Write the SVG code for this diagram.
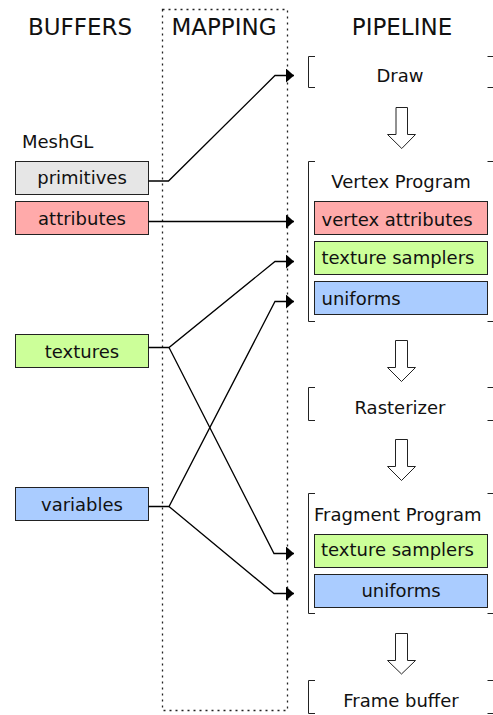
<svg xmlns="http://www.w3.org/2000/svg" width="493" height="715" viewBox="0 0 493 715">
  <defs>
    <style>
      text { font-family: "DejaVu Sans", "Liberation Sans", sans-serif; font-size: 18px; fill: #111; }
      .hdr { font-size: 23px; text-anchor: middle; }
      .mid { text-anchor: middle; }
      .box { stroke: #222; stroke-width: 1; }
      .grey { fill: #e6e6e6; }
      .red { fill: #ffaaaa; }
      .green { fill: #ccff99; }
      .blue { fill: #aaccff; }
      .bracket { fill: none; stroke: #222; stroke-width: 1; }
      .wire { fill: none; stroke: #000; stroke-width: 1.3; }
      .flow { fill: #fff; stroke: #222; stroke-width: 1; }
    </style>
    <marker id="arrow" viewBox="0 0 8 14" refX="8" refY="7" markerWidth="8" markerHeight="14" markerUnits="userSpaceOnUse" orient="auto">
      <path d="M0,0 L8,7 L0,14 Z" fill="#000"/>
    </marker>
  </defs>

  <!-- column headings -->
  <g id="headings">
    <text class="hdr" x="80" y="35">BUFFERS</text>
    <text class="hdr" x="224" y="35">MAPPING</text>
    <text class="hdr" x="402" y="35">PIPELINE</text>
  </g>

  <!-- mapping column outline -->
  <rect id="mapping" x="162.5" y="9.5" width="125" height="701" fill="none" stroke="#222" stroke-width="1.3" stroke-dasharray="2,4"/>

  <!-- buffer nodes -->
  <g id="meshgl-label"><text x="22" y="148">MeshGL</text></g>
  <g id="primitives">
    <rect class="box grey" x="15.5" y="161.5" width="133" height="33"/>
    <text class="mid" x="82" y="184">primitives</text>
  </g>
  <g id="attributes">
    <rect class="box red" x="15.5" y="201.5" width="133" height="33"/>
    <text class="mid" x="82" y="224.5">attributes</text>
  </g>
  <g id="textures">
    <rect class="box green" x="15.5" y="334.5" width="133" height="33"/>
    <text class="mid" x="82" y="357.5">textures</text>
  </g>
  <g id="variables">
    <rect class="box blue" x="15.5" y="487.5" width="133" height="33"/>
    <text class="mid" x="82" y="510.5">variables</text>
  </g>

  <!-- pipeline stages -->
  <g id="draw">
    <path class="bracket" d="M315,56.5 H308.5 V87.5 H315 M487.5,56.5 H494 V87.5 H487.5"/>
    <text class="mid" x="400" y="81.5">Draw</text>
  </g>
  <g id="vertex-program">
    <path class="bracket" d="M315,161.5 H308.5 V321.5 H315 M487.5,161.5 H494 V321.5 H487.5"/>
    <text class="mid" x="401" y="188">Vertex Program</text>
    <g id="vp-attributes">
      <rect class="box red" x="314.5" y="201.5" width="173" height="33"/>
      <text x="321.5" y="225.5">vertex attributes</text>
    </g>
    <g id="vp-samplers">
      <rect class="box green" x="314.5" y="241.5" width="173" height="33"/>
      <text x="321.5" y="263.5">texture samplers</text>
    </g>
    <g id="vp-uniforms">
      <rect class="box blue" x="314.5" y="281.5" width="173" height="33"/>
      <text x="321.5" y="305">uniforms</text>
    </g>
  </g>
  <g id="rasterizer">
    <path class="bracket" d="M315,387.5 H308.5 V420.5 H315 M487.5,387.5 H494 V420.5 H487.5"/>
    <text class="mid" x="400" y="414">Rasterizer</text>
  </g>
  <g id="fragment-program">
    <path class="bracket" d="M315,493.5 H308.5 V613.5 H315 M487.5,493.5 H494 V613.5 H487.5"/>
    <text x="314" y="520.5">Fragment Program</text>
    <g id="fp-samplers">
      <rect class="box green" x="314.5" y="534.5" width="173" height="33"/>
      <text x="321" y="555.5">texture samplers</text>
    </g>
    <g id="fp-uniforms">
      <rect class="box blue" x="314.5" y="574.5" width="173" height="33"/>
      <text class="mid" x="401" y="596.5">uniforms</text>
    </g>
  </g>
  <g id="frame-buffer">
    <path class="bracket" d="M315,680.5 H308.5 V713.5 H315 M487.5,680.5 H494 V713.5 H487.5"/>
    <text class="mid" x="401" y="707">Frame buffer</text>
  </g>

  <!-- stage-to-stage flow arrows -->
  <g id="flow">
    <path class="flow" d="M396,107.5 H407.5 V134.5 H415.5 L401.75,148.5 L387.5,134.5 H396 Z"/>
    <path class="flow" d="M395.5,340.5 H407.5 V367.5 H415.5 L401.5,381.5 L387.5,367.5 H395.5 Z"/>
    <path class="flow" d="M395.5,439.5 H407.5 V466.5 H415.5 L401.5,480.5 L387.5,466.5 H395.5 Z"/>
    <path class="flow" d="M395.5,633.5 H407.5 V660.5 H415.5 L401.5,674 L387.5,660.5 H395.5 Z"/>
  </g>

  <!-- buffer-to-input connectors -->
  <g id="connectors">
    <path class="wire" d="M148.5,181 H168.5 L275,75.5 H294" marker-end="url(#arrow)"/>
    <path class="wire" d="M148.5,221.5 H294" marker-end="url(#arrow)"/>
    <path class="wire" d="M148.5,347.5 H169 L275,261.5 H294" marker-end="url(#arrow)"/>
    <path class="wire" d="M169,347.5 L274,553.5 H294" marker-end="url(#arrow)"/>
    <path class="wire" d="M148.5,506.5 H169 L275,301.5 H294" marker-end="url(#arrow)"/>
    <path class="wire" d="M169,506.5 L274,593.5 H294" marker-end="url(#arrow)"/>
  </g>
</svg>
